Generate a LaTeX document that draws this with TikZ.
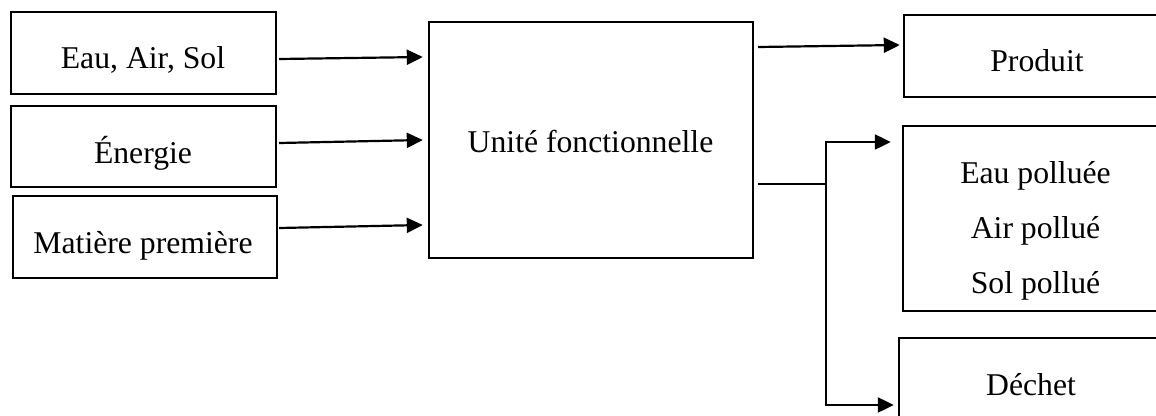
\documentclass[tikz,border=0pt]{standalone}
\usepackage{fontspec}
\setmainfont{Liberation Serif}
\usetikzlibrary{arrows.meta}
\begin{document}
\begin{tikzpicture}[x=1pt,y=-1pt,
  box/.style={draw=black,line width=2.2pt},
  txt/.style={anchor=base,inner sep=0pt,font=\fontsize{31.7}{38}\selectfont},
  arr/.style={line width=2.2pt,-{Triangle[length=16pt,width=15pt]}},
  ln/.style={line width=2.2pt}]
\useasboundingbox (0,0) rectangle (1156,415);
\clip (0,0) rectangle (1156,415);
% boxes
\draw[box] (11,12) rectangle (276,94);
\draw[box] (11,106) rectangle (276,187);
\draw[box] (13,196) rectangle (277,278);
\draw[box] (429,22) rectangle (753,258);
\draw[box] (904,15) rectangle (1168,97);
\draw[box] (903,126) rectangle (1168,311);
\draw[box] (899,338) rectangle (1166,432);
% named anchor nodes for boxes
\node[inner sep=0pt,minimum width=265pt,minimum height=82pt] (b1) at (143.5,53) {};
\node[inner sep=0pt,minimum width=265pt,minimum height=81pt] (b2) at (143.5,146.5) {};
\node[inner sep=0pt,minimum width=264pt,minimum height=82pt] (b3) at (145,237) {};
\node[inner sep=0pt,minimum width=324pt,minimum height=236pt] (main) at (591,140) {};
\node[inner sep=0pt,minimum width=264pt,minimum height=82pt] (prod) at (1036,56) {};
\node[inner sep=0pt,minimum width=265pt,minimum height=185pt] (poll) at (1035.5,218.5) {};
\node[inner sep=0pt,minimum width=267pt,minimum height=94pt] (dech) at (1032.5,385) {};
% texts
\node[txt] (t1) at (143,68) {Eau, Air, Sol};
\node[txt] (t2) at (143,163) {Énergie};
\node[txt] (t3) at (143,253) {Matière première};
\node[txt] (tm) at (590.5,152) {Unité fonctionnelle};
\node[txt] (tp) at (1037,71) {Produit};
\node[txt] (tp1) at (1035.5,183) {Eau polluée};
\node[txt] (tp2) at (1035.5,238) {Air pollué};
\node[txt] (tp3) at (1035.5,293) {Sol pollué};
\node[txt] (td) at (1031,395) {Déchet};
% connectors
\draw[arr] ([shift={(3,6)}]b1.east) -- ([shift={(-6,-83)}]main.west);
\draw[arr] ([shift={(3,-3.5)}]b2.east) -- ([shift={(-6,0)}]main.west);
\draw[arr] ([shift={(2,-9)}]b3.east) -- ([shift={(-6,85)}]main.west);
\draw[arr] ([shift={(5,-93)}]main.east) -- ([shift={(-4,-11)}]prod.west);
\coordinate (j) at (826,184);
\coordinate (jt) at (826,142);
\coordinate (jb) at (826,405);
\draw[ln] ([shift={(5,44)}]main.east) -- (j);
\draw[arr] (j) -- (jt) -- ([shift={(-12,-76.5)}]poll.west);
\draw[arr] (j) -- (jb) -- ([shift={(-5,20)}]dech.west);
\end{tikzpicture}
\end{document}
